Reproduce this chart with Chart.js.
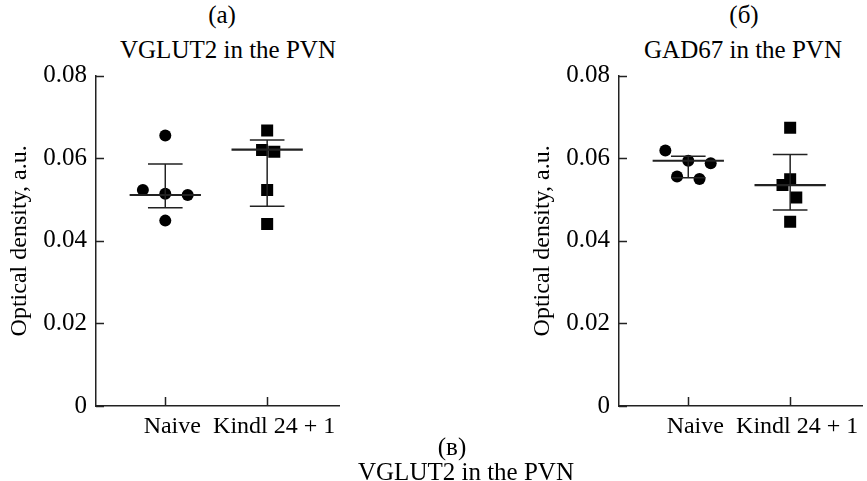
<!DOCTYPE html>
<html>
<head>
<meta charset="utf-8">
<title>VGLUT2 / GAD67 in the PVN</title>
<script src="https://cdn.jsdelivr.net/npm/chart.js@4.4.1/dist/chart.umd.min.js"></script>
<style>
  html, body { margin: 0; padding: 0; background: #fff; }
  body {
    width: 867px; height: 481px; overflow: hidden; position: relative;
    font-family: "Liberation Serif", "DejaVu Serif", serif; color: #000;
  }
  .panel { position: absolute; top: 0; width: 440px; height: 481px; }
  #panelA { left: 0; }
  #panelB { left: 523px; }
  .caption {
    position: absolute; transform: translateX(-50%); white-space: nowrap;
    font-size: 25px; line-height: 25px;
  }
</style>
</head>
<body>
<div class="caption" style="left:222px; top:2px">(a)</div>
<div class="caption" style="left:228px; top:37px">VGLUT2 in the PVN</div>
<div class="caption" style="left:744px; top:2px">(б)</div>
<div class="caption" style="left:743px; top:37px">GAD67 in the PVN</div>

<div class="panel" id="panelA"><canvas id="chartA" width="440" height="481"></canvas></div>
<div class="panel" id="panelB"><canvas id="chartB" width="440" height="481"></canvas></div>

<div class="caption" style="left:452px; top:434px">(в)</div>
<div class="caption" style="left:466px; top:459px">VGLUT2 in the PVN</div>

<script>
const categories = ['Naive', 'Kindl 24 + 1'];
const yTickValues = [0, 0.02, 0.04, 0.06, 0.08];

// (a) VGLUT2, optical density per animal
const vglutNaive = [0.0655, 0.0523, 0.0514, 0.0511, 0.0449];
const vglutKindl = [0.0667, 0.0620, 0.0616, 0.0523, 0.0441];
const vglutMedian = [0.0511, 0.0621];
const vglutQ1 = [0.0480, 0.0484];
const vglutQ3 = [0.0586, 0.0644];

// (б) GAD67
const gadNaive = [0.0619, 0.0594, 0.0588, 0.0556, 0.0550];
const gadKindl = [0.0674, 0.0549, 0.0535, 0.0505, 0.0446];
const gadMedian = [0.0594, 0.0535];
const gadQ1 = [0.0553, 0.0475];
const gadQ3 = [0.0605, 0.0609];

// sideways spread of the dots around each category, in category units
const vglutSpread = [[0, -0.22, 0, 0.22, 0], [0, -0.05, 0.07, 0, 0]];
const gadSpread = [[-0.225, 0, 0.22, -0.11, 0.11], [0, 0, -0.075, 0.06, 0]];

const MEDIAN_HALF = 0.35;
const CAP_HALF = 0.17;
const INK = '#222';
const SERIF = '"Liberation Serif", "DejaVu Serif", serif';

const medianSegments = (median) => {
    const pts = [];
    median.forEach((m, i) => {
        const c = i + 1;
        pts.push({ x: c - MEDIAN_HALF, y: m }, { x: c + MEDIAN_HALF, y: m }, { x: c, y: null });
    });
    return pts;
};

const whiskerSegments = (q1, q3) => {
    const pts = [];
    q1.forEach((lo, i) => {
        const c = i + 1;
        const hi = q3[i];
        pts.push({ x: c - CAP_HALF, y: lo }, { x: c + CAP_HALF, y: lo }, { x: c, y: null });
        pts.push({ x: c - CAP_HALF, y: hi }, { x: c + CAP_HALF, y: hi }, { x: c, y: null });
        pts.push({ x: c, y: lo }, { x: c, y: hi }, { x: c, y: null });
    });
    return pts;
};

const dots = (values, c, spread) => values.map((v, j) => ({ x: c + spread[j], y: v }));

// ticks in this figure point into the plot
const innerTicks = {
    id: 'innerTicks',
    afterDraw(chart) {
        const { ctx, chartArea, scales } = chart;
        ctx.save();
        ctx.strokeStyle = INK;
        ctx.lineWidth = 1.5;
        ctx.beginPath();
        yTickValues.forEach(v => {
            const y = Math.round(scales.y.getPixelForValue(v)) + 0.5;
            ctx.moveTo(chartArea.left, y);
            ctx.lineTo(chartArea.left + 8, y);
        });
        categories.forEach((c, i) => {
            const x = Math.round(scales.x.getPixelForValue(i + 1)) + 0.5;
            ctx.moveTo(x, chartArea.bottom);
            ctx.lineTo(x, chartArea.bottom - 9);
        });
        ctx.stroke();
        ctx.restore();
    }
};

const makePanel = (canvasId, naive, kindl, spread, median, q1, q3) => {
    const ctx = document.getElementById(canvasId).getContext('2d');
    return new Chart(ctx, {
        type: 'scatter',
        data: {
            datasets: [
                {
                    label: 'median',
                    data: medianSegments(median),
                    showLine: true, spanGaps: false,
                    borderColor: INK, borderWidth: 2.2,
                    pointRadius: 0
                },
                {
                    label: 'iqr',
                    data: whiskerSegments(q1, q3),
                    showLine: true, spanGaps: false,
                    borderColor: INK, borderWidth: 1.5,
                    pointRadius: 0
                },
                {
                    label: categories[0],
                    data: dots(naive, 1, spread[0]),
                    pointStyle: 'circle', pointRadius: 6,
                    backgroundColor: '#000', borderWidth: 0
                },
                {
                    label: categories[1],
                    data: dots(kindl, 2, spread[1]),
                    pointStyle: 'rect', pointRadius: 8.5,
                    backgroundColor: '#000', borderWidth: 0
                }
            ]
        },
        options: {
            responsive: false,
            animation: false,
            devicePixelRatio: 1,
            layout: { padding: { left: 0, right: 100.5, top: 75.7, bottom: 35 } },
            plugins: {
                legend: { display: false },
                tooltip: { enabled: false }
            },
            scales: {
                x: {
                    type: 'linear',
                    min: 0.32, max: 2.71,
                    afterBuildTicks: s => { s.ticks = categories.map((c, i) => ({ value: i + 1 })); },
                    afterFit: s => { s.height = 40; },
                    grid: { display: false, drawTicks: false },
                    border: { display: true, color: INK, width: 1.5 },
                    ticks: {
                        color: '#000',
                        padding: 6,
                        labelOffset: 7,
                        maxRotation: 0,
                        autoSkip: false,
                        font: { family: SERIF, size: 24 },
                        callback: v => categories[v - 1]
                    }
                },
                y: {
                    min: 0, max: 0.08,
                    afterBuildTicks: s => { s.ticks = yTickValues.map(v => ({ value: v })); },
                    afterFit: s => { s.width = 96; },
                    grid: { display: false, drawTicks: false },
                    border: { display: true, color: INK, width: 1.5 },
                    ticks: {
                        color: '#000',
                        padding: 9,
                        font: { family: SERIF, size: 25 },
                        callback: v => (v === 0 ? '0' : v.toFixed(2))
                    },
                    title: {
                        display: true,
                        text: 'Optical density, a.u.',
                        color: '#000',
                        padding: { top: 5, bottom: 0 },
                        font: { family: SERIF, size: 24 }
                    }
                }
            }
        },
        plugins: [innerTicks]
    });
};

makePanel('chartA', vglutNaive, vglutKindl, vglutSpread, vglutMedian, vglutQ1, vglutQ3);
makePanel('chartB', gadNaive, gadKindl, gadSpread, gadMedian, gadQ1, gadQ3);
</script>
</body>
</html>
